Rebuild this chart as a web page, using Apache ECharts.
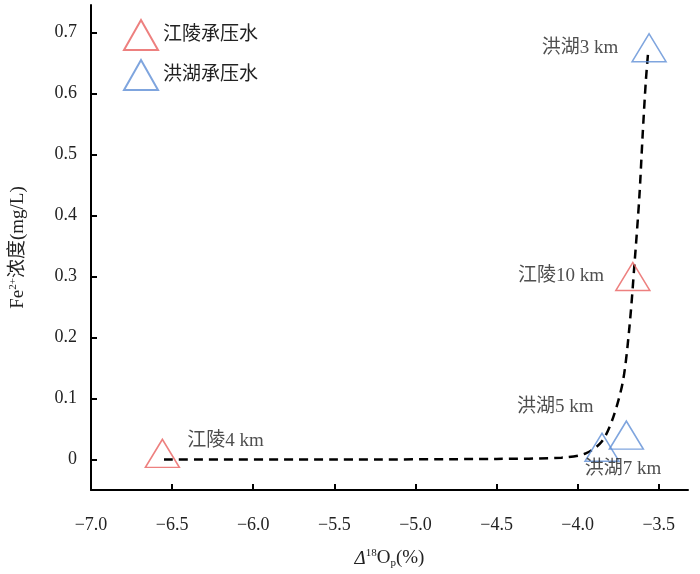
<!DOCTYPE html>
<html><head><meta charset="utf-8">
<script src="https://cdn.jsdelivr.net/npm/echarts@6/dist/echarts.min.js"></script>
<style>html,body{margin:0;background:#fff}#c{width:700px;height:574px}</style>
</head><body><div id="c"></div>
<script>
var jiangling = [[-6.56, 0.01, '江陵4 km'], [-3.66, 0.30, '江陵10 km']];
var honghu = [[-3.56, 0.675, '洪湖3 km'], [-3.70, 0.04, '洪湖5 km'], [-3.85, 0.02, '洪湖7 km']];
var curveX = [-6.55, -5.5, -4.5, -4.1, -3.95, -3.85, -3.78, -3.72, -3.68, -3.65, -3.62, -3.6, -3.58, -3.565];
var curveY = [0, 0, 0.001, 0.003, 0.01, 0.03, 0.07, 0.13, 0.22, 0.32, 0.43, 0.53, 0.62, 0.67];
var xTicks = [-6.5, -6.0, -5.5, -5.0, -4.5, -4.0, -3.5];
var xLabels = [-7.0, -6.5, -6.0, -5.5, -5.0, -4.5, -4.0, -3.5];
var yTicks = [0, 0.1, 0.2, 0.3, 0.4, 0.5, 0.6, 0.7];

var font = 'Liberation Serif, Noto Sans CJK SC, serif';
var labelPos = {'江陵4 km': [2, -12, 'right'], '江陵10 km': [-6, 0, 'left'], '洪湖3 km': [-8, 0, 'left'],
  '洪湖5 km': [-10, -28, 'left'], '洪湖7 km': [-40, 22, 'right']};
function mkData(arr) {
  return arr.map(function (d) {
    var o = labelPos[d[2]];
    return {value: d, label: {show: true, position: o[2], offset: [o[0], o[1]], formatter: d[2],
      fontFamily: font, fontSize: 19, color: '#222'}};
  });
}
var chart = echarts.init(document.getElementById('c'));
chart.setOption({
  animation: false,
  textStyle: {fontFamily: font},
  grid: {left: 89, right: 12, top: 5, bottom: 82},
  legend: {left: 118, top: 14, orient: 'vertical', itemWidth: 34, itemHeight: 30, itemGap: 8,
    textStyle: {fontSize: 19, color: '#222', fontFamily: font},
    data: ['江陵承压水', '洪湖承压水']},
  xAxis: {type: 'value', min: -7, max: -3.32,
    name: '{i|Δ}{s|18}O{b|p}(%)', nameLocation: 'middle', nameGap: 58,
    nameTextStyle: {fontSize: 19, color: '#222', rich: {i: {fontStyle: 'italic', fontSize: 19}, s: {fontSize: 11, verticalAlign: 'top', padding: [0, 0, 10, 0]}, b: {fontSize: 11, padding: [10, 0, 0, 0]}}},
    axisLine: {onZero: false, lineStyle: {color: '#000', width: 2}},
    axisTick: {inside: true, length: 6, customValues: xTicks, lineStyle: {color: '#000', width: 2}},
    axisLabel: {fontSize: 18, color: '#222', margin: 26, customValues: xLabels,
      formatter: function (v) { return v.toFixed(1).replace('-', '−'); }},
    splitLine: {show: false}},
  yAxis: {type: 'value', min: -0.05, max: 0.745,
    name: 'Fe{s|2+}浓度(mg/L)', nameLocation: 'middle', nameGap: 62,
    nameTextStyle: {fontSize: 19, color: '#222', rich: {s: {fontSize: 11, verticalAlign: 'top', padding: [0, 0, 10, 0]}}},
    axisLine: {onZero: false, lineStyle: {color: '#000', width: 2}},
    axisTick: {inside: true, length: 6, customValues: yTicks, lineStyle: {color: '#000', width: 2}},
    axisLabel: {fontSize: 18, color: '#222', margin: 14, customValues: yTicks,
      formatter: function (v) { return v === 0 ? '0' : v.toFixed(1); }},
    splitLine: {show: false}},
  series: [
    {type: 'line', smooth: 0.3, symbol: 'none', silent: true, z: 1,
      data: curveX.map(function (x, i) { return [x, curveY[i]]; }),
      lineStyle: {color: '#000', width: 2.5, type: [9, 6]}},
    {name: '江陵承压水', type: 'scatter', symbol: 'triangle', symbolSize: [34, 28], z: 3,
      itemStyle: {color: 'rgba(0,0,0,0)', borderColor: '#e8605f', borderWidth: 1.5},
      data: mkData(jiangling)},
    {name: '洪湖承压水', type: 'scatter', symbol: 'triangle', symbolSize: [34, 28], z: 3,
      itemStyle: {color: 'rgba(0,0,0,0)', borderColor: '#5f8fd6', borderWidth: 1.5},
      data: mkData(honghu)}
  ]
});
</script></body></html>
